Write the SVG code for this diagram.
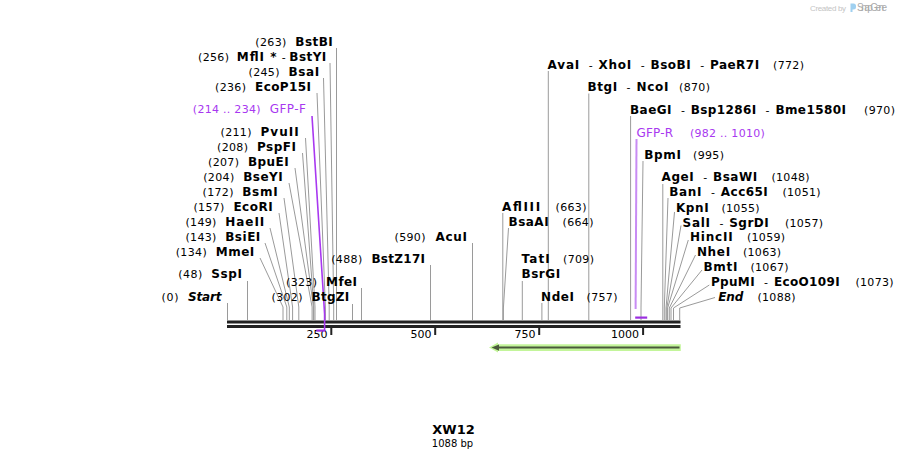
<svg xmlns="http://www.w3.org/2000/svg" width="908" height="460" viewBox="0 0 908 460">
<style>
text{font-family:"DejaVu Sans",Verdana,sans-serif;font-size:11px;fill:#000}
.b{font-weight:bold;font-size:12px}
.i{font-style:italic}
.p{fill:#a838f0}
.l{stroke:#9a9a9a;stroke-width:1;fill:none}
.pl{stroke:#a838f0;stroke-width:1.6;fill:none}
.e{text-anchor:end}
</style>
<rect width="908" height="460" fill="#fff"/>
<g id="credit">
<text x="810" y="10.5" style="font-family:'Liberation Sans',Arial,sans-serif;font-size:8px;fill:#c4c4c4" textLength="36">Created by</text>
<path d="M850.5,3.5 h3 a2.5,2.5 0 0 1 2.5,2.5 v1 a2.5,2.5 0 0 1 -2.5,2.5 h-1 v2.5 h-2 z" fill="#9fd0f0"/>
<text x="857" y="11" style="font-family:'Liberation Sans',Arial,sans-serif;font-size:10px;fill:#aaaaaa" textLength="30">SnapGene</text>
</g>
<g id="connectors">
<polyline class="l" points="336.5,48 336.5,320"/>
<polyline class="l" points="330,63 333.7,307 333.7,320"/>
<polyline class="l" points="323.5,78 329.2,307 329.2,320"/>
<polyline class="l" points="317,93 325.4,307 325.4,320"/>
<polyline class="l" points="305.5,138 315,307 315,320"/>
<polyline class="l" points="302.5,153 313.8,307 313.8,320"/>
<polyline class="l" points="295,168 313.4,307 313.4,320"/>
<polyline class="l" points="289,183 312.1,307 312.1,320"/>
<polyline class="l" points="284,198 298.8,307 298.8,320"/>
<polyline class="l" points="279,213 292.6,307 292.6,320"/>
<polyline class="l" points="270,228 289.3,307 289.3,320"/>
<polyline class="l" points="265,243 286.8,307 286.8,320"/>
<polyline class="l" points="260,258 283,307 283,320"/>
<polyline class="l" points="247.5,281 247.5,320"/>
<polyline class="l" points="227.5,303 227.5,320"/>
<polyline class="l" points="361.5,288 361.5,320"/>
<polyline class="l" points="352.5,304 352.5,320"/>
<polyline class="l" points="430.5,265 430.5,320"/>
<polyline class="l" points="472.5,243 472.5,320"/>
<polyline class="l" points="502.8,213 502.8,320"/>
<polyline class="l" points="508.5,228 503.4,308 503.4,320"/>
<polyline class="l" points="522.3,281 522.3,320"/>
<polyline class="l" points="541.9,303 541.9,320"/>
<polyline class="l" points="548.3,71 548.3,320"/>
<polyline class="l" points="588.8,93.5 588.8,320"/>
<polyline class="l" points="630.6,116 630.6,320"/>
<polyline class="l" points="643,161 641,308 641,320"/>
<polyline class="l" points="662.8,184 662.8,320"/>
<polyline class="l" points="668,198 664.3,308 664.3,320"/>
<polyline class="l" points="674.5,212 666,308 666,320"/>
<polyline class="l" points="681,225.5 666.8,308 666.8,320"/>
<polyline class="l" points="688.3,240 667.6,308 667.6,320"/>
<polyline class="l" points="695.5,255 669.3,308 669.3,320"/>
<polyline class="l" points="702,270 671,308 671,320"/>
<polyline class="l" points="709.3,285 673.5,308 673.5,320"/>
<polyline class="l" points="715,297.5 679.7,308 679.7,320"/>
</g>
<g id="backbone">
<rect x="227" y="320.5" width="453.5" height="3" fill="#222"/>
<rect x="227" y="325" width="453.5" height="3" fill="#222"/>
</g>
<g id="ticks">
<rect x="330.3" y="328" width="2" height="7" fill="#222"/>
<rect x="434.2" y="328" width="2" height="7" fill="#222"/>
<rect x="538.2" y="328" width="2" height="7" fill="#222"/>
<rect x="642.1" y="328" width="2" height="7" fill="#222"/>
<text class="e" x="327.5" y="337.5">250</text>
<text class="e" x="431.5" y="337.5">500</text>
<text class="e" x="535.5" y="337.5">750</text>
<text class="e" x="639" y="337.5">1000</text>
</g>
<g id="GFP-F">
<polyline class="pl" points="312,116 324.6,314 324.6,331"/>
<rect x="316.3" y="329.5" width="8.8" height="2.2" fill="#9b2ee0"/>
<text class="p e" x="260.5" y="113" textLength="67.7">(214 .. 234)</text>
<text class="p e" x="305.8" y="113" style="font-size:12px" textLength="36">GFP-F</text>
</g>
<g id="GFP-R">
<polyline points="636.5,139 635.6,309" stroke="#c88cf4" stroke-width="2" fill="none"/>
<rect x="635.2" y="316.5" width="12" height="2.2" fill="#9b2ee0"/>
<text class="p" x="636.5" y="137" style="font-size:12px" textLength="36.5">GFP-R</text>
<text class="p" x="690" y="137" textLength="74.7">(982 .. 1010)</text>
</g>
<g id="BstBI"><text class="e" x="286.3" y="46" textLength="31">(263)</text><text class="b e" x="332.7" y="46" textLength="37.4">BstBI</text></g>
<g id="MflI-BstYI"><text class="e" x="229" y="61" textLength="31">(256)</text><text class="b" x="236.8" y="61" textLength="27.1">MflI</text><text class="b" x="270.3" y="61">*</text><text x="281.8" y="61">-</text><text class="b" x="289.3" y="61" textLength="37">BstYI</text></g>
<g id="BsaI"><text class="e" x="279.5" y="76" textLength="31">(245)</text><text class="b e" x="319.3" y="76" textLength="30.8">BsaI</text></g>
<g id="EcoP15I"><text class="e" x="246" y="91" textLength="31">(236)</text><text class="b e" x="311" y="91" textLength="55.9">EcoP15I</text></g>
<g id="PvuII"><text class="e" x="251.5" y="136" textLength="31">(211)</text><text class="b e" x="298.7" y="136" textLength="38.2">PvuII</text></g>
<g id="PspFI"><text class="e" x="248" y="151" textLength="31">(208)</text><text class="b e" x="296" y="151" textLength="39">PspFI</text></g>
<g id="BpuEI"><text class="e" x="239" y="166" textLength="31">(207)</text><text class="b e" x="288.7" y="166" textLength="40.8">BpuEI</text></g>
<g id="BseYI"><text class="e" x="234.2" y="181" textLength="31">(204)</text><text class="b e" x="282.7" y="181" textLength="39.5">BseYI</text></g>
<g id="BsmI"><text class="e" x="233.5" y="196" textLength="31">(172)</text><text class="b e" x="277.7" y="196" textLength="35.5">BsmI</text></g>
<g id="EcoRI"><text class="e" x="224.4" y="211" textLength="31">(157)</text><text class="b e" x="272.7" y="211" textLength="39.3">EcoRI</text></g>
<g id="HaeII"><text class="e" x="216.4" y="226" textLength="31">(149)</text><text class="b e" x="264.3" y="226" textLength="39.1">HaeII</text></g>
<g id="BsiEI"><text class="e" x="216.4" y="241" textLength="31">(143)</text><text class="b e" x="260.3" y="241" textLength="35.1">BsiEI</text></g>
<g id="MmeI"><text class="e" x="206.7" y="256" textLength="31">(134)</text><text class="b e" x="254.3" y="256" textLength="38.6">MmeI</text></g>
<g id="SspI"><text class="e" x="202.2" y="278" textLength="24">(48)</text><text class="b e" x="242" y="278" textLength="30.7">SspI</text></g>
<g id="Start"><text class="e" x="178.5" y="301" textLength="17">(0)</text><text class="b i e" x="221.5" y="301" textLength="33.6">Start</text></g>
<g id="MfeI"><text class="e" x="317" y="286" textLength="31">(323)</text><text class="b e" x="357" y="286" textLength="30.9">MfeI</text></g>
<g id="BtgZI"><text class="e" x="302.5" y="301" textLength="31">(302)</text><text class="b e" x="349.3" y="301" textLength="37.8">BtgZI</text></g>
<g id="BstZ17I"><text class="e" x="362.2" y="263" textLength="31">(488)</text><text class="b e" x="425" y="263" textLength="53.6">BstZ17I</text></g>
<g id="AcuI"><text class="e" x="425.5" y="241" textLength="31">(590)</text><text class="b e" x="467" y="241" textLength="31.5">AcuI</text></g>
<g id="AflIII"><text class="b" x="502" y="211" textLength="38.1">AflIII</text><text x="555.5" y="211" textLength="31">(663)</text></g>
<g id="BsaAI"><text class="b" x="508.5" y="226" textLength="40.1">BsaAI</text><text x="562.5" y="226" textLength="31">(664)</text></g>
<g id="TatI"><text class="b" x="521.5" y="263" textLength="28.2">TatI</text><text x="563" y="263" textLength="31">(709)</text></g>
<g id="BsrGI"><text class="b" x="521.5" y="278" textLength="38.6">BsrGI</text></g>
<g id="NdeI"><text class="b" x="541" y="301" textLength="33">NdeI</text><text x="586.5" y="301" textLength="31">(757)</text></g>
<g id="AvaI"><text class="b" x="547.6" y="68.5" textLength="31.7">AvaI</text><text x="588.8" y="68.5">-</text><text class="b" x="598.6" y="68.5" textLength="32.6">XhoI</text><text x="640.7" y="68.5">-</text><text class="b" x="650.5" y="68.5" textLength="40.2">BsoBI</text><text x="700.2" y="68.5">-</text><text class="b" x="710" y="68.5" textLength="49.1">PaeR7I</text><text x="773" y="68.5" textLength="31">(772)</text></g>
<g id="BtgI"><text class="b" x="587.6" y="91" textLength="29.5">BtgI</text><text x="626.6" y="91">-</text><text class="b" x="636.4" y="91" textLength="32">NcoI</text><text x="679" y="91" textLength="31">(870)</text></g>
<g id="BaeGI"><text class="b" x="630" y="114" textLength="41.5">BaeGI</text><text x="681" y="114">-</text><text class="b" x="690.8" y="114" textLength="65.3">Bsp1286I</text><text x="765.6" y="114">-</text><text class="b" x="775.4" y="114" textLength="70.5">Bme1580I</text><text x="864" y="114" textLength="31">(970)</text></g>
<g id="BpmI"><text class="b" x="644.2" y="158.5" textLength="36.8">BpmI</text><text x="693" y="158.5" textLength="31">(995)</text></g>
<g id="AgeI"><text class="b" x="661.6" y="181" textLength="32.2">AgeI</text><text x="703.3" y="181">-</text><text class="b" x="713.1" y="181" textLength="44">BsaWI</text><text x="771.5" y="181" textLength="38">(1048)</text></g>
<g id="BanI"><text class="b" x="669.3" y="196" textLength="32.2">BanI</text><text x="711" y="196">-</text><text class="b" x="720.8" y="196" textLength="47">Acc65I</text><text x="782.5" y="196" textLength="38">(1051)</text></g>
<g id="KpnI"><text class="b" x="675.9" y="211.5" textLength="32.7">KpnI</text><text x="721.5" y="211.5" textLength="38">(1055)</text></g>
<g id="SalI"><text class="b" x="682.6" y="226.5" textLength="27.3">SalI</text><text x="719.4" y="226.5">-</text><text class="b" x="729.2" y="226.5" textLength="39.5">SgrDI</text><text x="785" y="226.5" textLength="38">(1057)</text></g>
<g id="HincII"><text class="b" x="689.9" y="241" textLength="42.8">HincII</text><text x="747" y="241" textLength="38">(1059)</text></g>
<g id="NheI"><text class="b" x="696.9" y="256" textLength="33.2">NheI</text><text x="743" y="256" textLength="38">(1063)</text></g>
<g id="BmtI"><text class="b" x="703.5" y="271" textLength="33.9">BmtI</text><text x="750.5" y="271" textLength="38">(1067)</text></g>
<g id="PpuMI"><text class="b" x="711" y="286" textLength="43.6">PpuMI</text><text x="764.1" y="286">-</text><text class="b" x="773.9" y="286" textLength="65.8">EcoO109I</text><text x="855.5" y="286" textLength="38">(1073)</text></g>
<g id="End"><text class="b i" x="718.2" y="301" textLength="25.1">End</text><text x="757.5" y="301" textLength="38">(1088)</text></g>
<g id="feature">
<polygon points="489,347.6 498,342.6 498,344.2 680.8,344.2 680.8,351 498,351 498,352.6" fill="#c3f59a"/>
<line x1="496" y1="347.6" x2="679.5" y2="347.6" stroke="#4b5a3c" stroke-width="2"/>
<polygon points="491.5,347.6 499,344.4 499,350.8" fill="#4b5a3c"/>
</g>
<g id="title">
<text x="453.5" y="434.3" text-anchor="middle" style="font-weight:bold;font-size:13px">XW12</text>
<text x="452.5" y="447" text-anchor="middle" style="font-size:10px">1088 bp</text>
</g>
</svg>
